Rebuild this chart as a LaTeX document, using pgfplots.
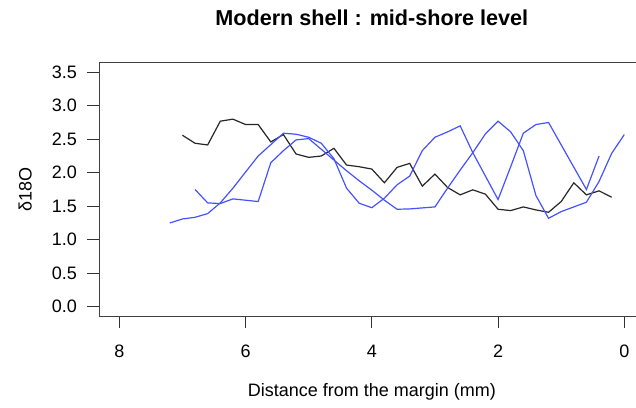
\documentclass[border=0pt]{standalone}
\usepackage{fontspec}
\setmainfont{Liberation Sans}
\usepackage{pgfplots}
\pgfplotsset{compat=1.18}
\definecolor{rblue}{RGB}{70,82,255}
\begin{document}
\begin{tikzpicture}
\useasboundingbox (0,0) rectangle (318pt,203.5pt);
\begin{axis}[
  at={(49.55pt,45.45pt)}, anchor=south west,
  scale only axis, width=272.7pt, height=126.6pt,
  x dir=reverse,
  xmin=-0.32, xmax=8.32, ymin=-0.14, ymax=3.64,
  xtick={0,2,4,6,8}, xticklabels={0,2,4,6,8},
  ytick={0,0.5,1,1.5,2,2.5,3,3.5},
  yticklabels={0.0,0.5,1.0,1.5,2.0,2.5,3.0,3.5},
  /pgf/number format/assume math mode=true,
  tick align=outside, major tick length=6pt,
  xtick pos=bottom, ytick pos=left,
  tick style={black!80, line width=0.5pt},
  axis line style={black!75, line width=0.5pt},
  font=\fontsize{9}{10.5}\selectfont,
  xticklabel style={anchor=base, inner sep=0pt, yshift=-14.5pt},
  yticklabel style={anchor=east, inner sep=0pt, xshift=-4.9pt},
  title={\bfseries Modern shell : mid-shore level},
  title style={at={(axis description cs:0.5,1.100)}, anchor=base, font=\fontsize{10.8}{12.5}\selectfont},
  xlabel={Distance from the margin (mm)},
  xlabel style={at={(axis description cs:0.5,-0.3156)}, anchor=base},
  ylabel={δ18O},
  ylabel style={at={(axis description cs:-0.1357,0.5)}, anchor=center},
]
\addplot[black!85, line width=0.6pt] coordinates {
(7.0,2.56) (6.8,2.44) (6.6,2.415) (6.4,2.77) (6.2,2.80) (6.0,2.72) (5.8,2.72)
(5.6,2.46) (5.4,2.57) (5.2,2.28) (5.0,2.23) (4.8,2.25) (4.6,2.365) (4.4,2.115)
(4.2,2.09) (4.0,2.055) (3.8,1.85) (3.6,2.08) (3.4,2.14) (3.2,1.80) (3.0,1.98)
(2.8,1.78) (2.6,1.67) (2.4,1.745) (2.2,1.68) (2.0,1.455) (1.8,1.435) (1.6,1.49)
(1.4,1.445) (1.2,1.41) (1.0,1.57) (0.8,1.85) (0.6,1.67) (0.4,1.73) (0.2,1.635)
};
\addplot[rblue, line width=0.6pt] coordinates {
(7.2,1.25) (7.0,1.31) (6.8,1.335) (6.6,1.39) (6.4,1.55) (6.2,1.77) (6.0,2.01)
(5.8,2.25) (5.6,2.42) (5.4,2.59) (5.2,2.575) (5.0,2.53) (4.8,2.44) (4.6,2.21)
(4.4,1.77) (4.2,1.545) (4.0,1.478) (3.8,1.62) (3.6,1.82) (3.4,1.95) (3.2,2.33)
(3.0,2.53) (2.8,2.61) (2.6,2.70) (2.4,2.30) (2.2,1.95) (2.0,1.60) (1.8,2.09)
(1.6,2.59) (1.4,2.72) (1.2,2.75) (0.6,1.75) (0.4,2.25)
};
\addplot[rblue, line width=0.6pt] coordinates {
(6.8,1.75) (6.6,1.55) (6.4,1.54) (6.2,1.61) (6.0,1.59) (5.8,1.57) (5.6,2.15)
(5.4,2.33) (5.2,2.49) (5.0,2.51) (4.8,2.35) (4.6,2.19) (4.4,2.03) (4.2,1.88)
(4.0,1.74) (3.8,1.59) (3.6,1.455) (3.4,1.46) (3.2,1.475) (3.0,1.49) (2.8,1.77)
(2.6,2.04) (2.4,2.30) (2.2,2.58) (2.0,2.77) (1.8,2.61) (1.6,2.33) (1.4,1.66)
(1.2,1.32) (1.0,1.42) (0.8,1.49) (0.6,1.56) (0.4,1.87) (0.2,2.29) (0.0,2.57)
};
\end{axis}
\end{tikzpicture}
\end{document}
